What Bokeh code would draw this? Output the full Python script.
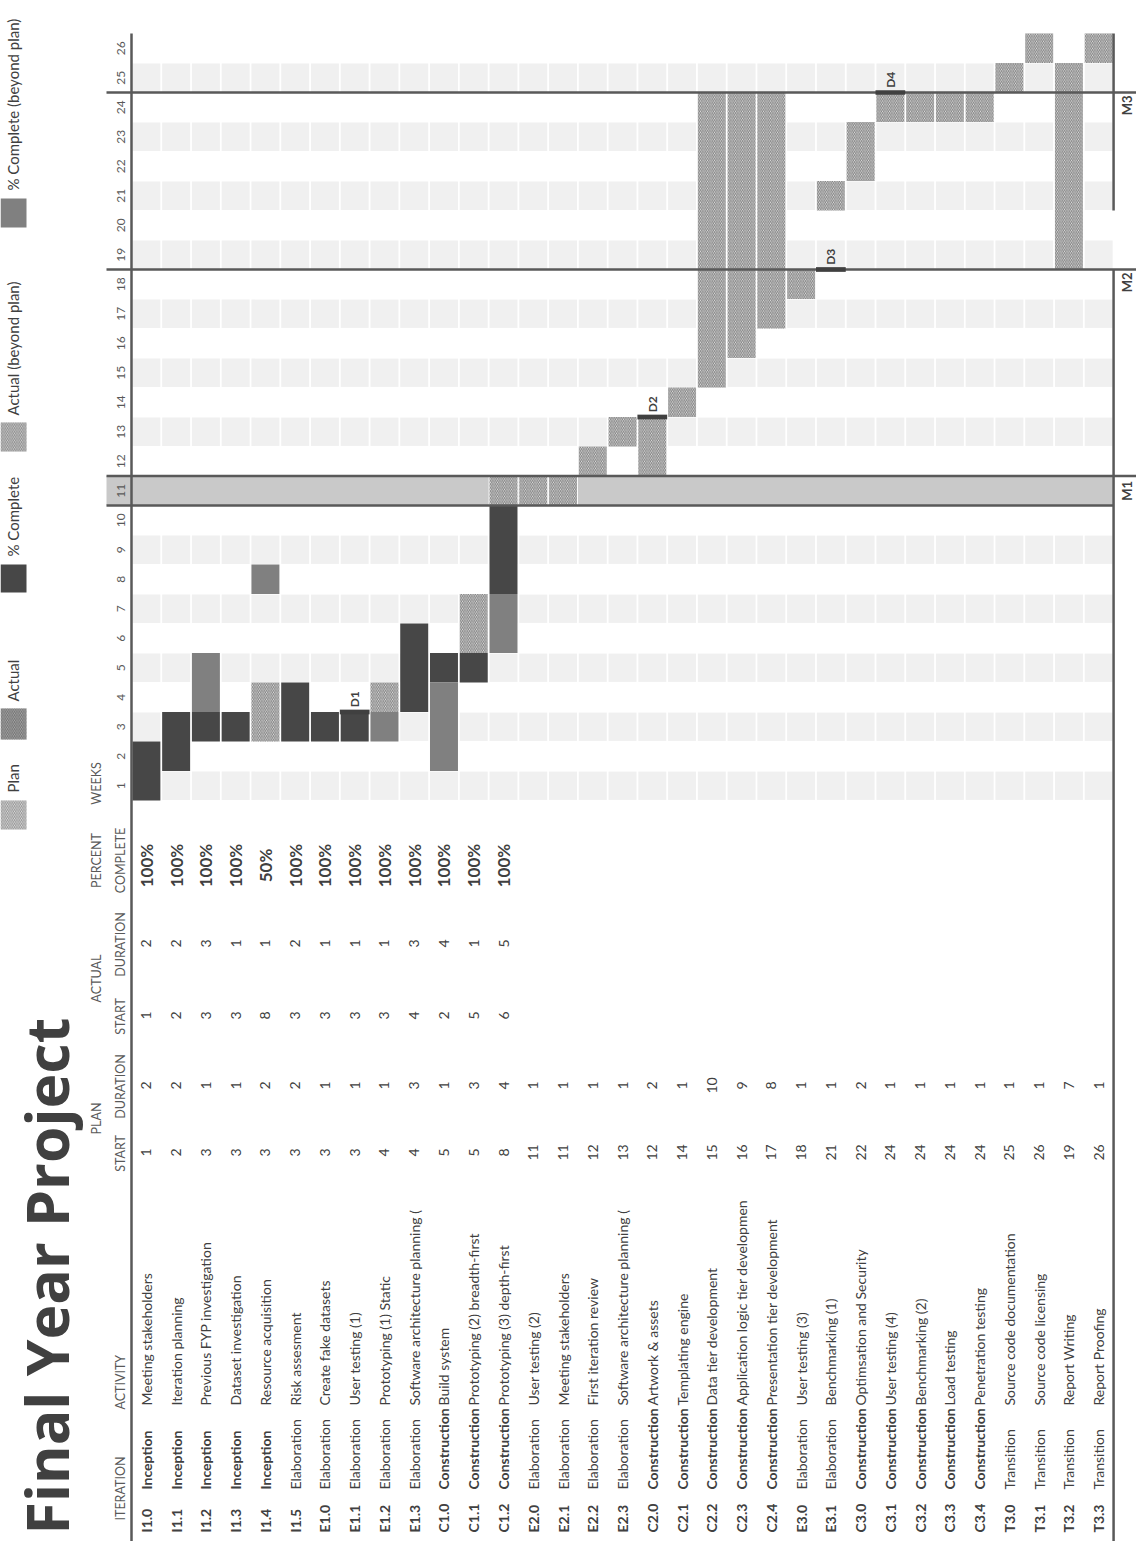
import math
from bokeh.plotting import figure
from bokeh.models import Range1d, ColumnDataSource
from bokeh.core.properties import value
from bokeh.embed import file_html
from bokeh.resources import INLINE

# ---------------- data ----------------
title = "Final Year Project"
codes = ["I1.0", "I1.1", "I1.2", "I1.3", "I1.4", "I1.5", "E1.0", "E1.1", "E1.2", "E1.3",
         "C1.0", "C1.1", "C1.2", "E2.0", "E2.1", "E2.2", "E2.3", "C2.0", "C2.1", "C2.2",
         "C2.3", "C2.4", "E3.0", "E3.1", "C3.0", "C3.1", "C3.2", "C3.3", "C3.4", "T3.0",
         "T3.1", "T3.2", "T3.3"]
iterations = ["Inception"] * 5 + ["Elaboration"] * 5 + ["Construction"] * 3 + \
             ["Elaboration"] * 4 + ["Construction"] * 5 + ["Elaboration"] * 2 + \
             ["Construction"] * 5 + ["Transition"] * 4
activities = ["Meeting stakeholders", "Iteration planning", "Previous FYP investigation",
              "Dataset investigation", "Resource acquisition", "Risk assesment",
              "Create fake datasets", "User testing (1)", "Prototyping (1) Static",
              "Software architecture planning (", "Build system",
              "Prototyping (2) breadth-first", "Prototyping (3) depth-first",
              "User testing (2)", "Meeting stakeholders", "First iteration review",
              "Software architecture planning (", "Artwork & assets", "Templating engine",
              "Data tier development", "Application logic tier developmen",
              "Presentation tier development", "User testing (3)", "Benchmarking (1)",
              "Optimsation and Security", "User testing (4)", "Benchmarking (2)",
              "Load testing", "Penetration testing", "Source code documentation",
              "Source code licensing", "Report Writing", "Report Proofing"]
plan_start = [1, 2, 3, 3, 3, 3, 3, 3, 4, 4, 5, 5, 8, 11, 11, 12, 13, 12, 14, 15, 16, 17,
              18, 21, 22, 24, 24, 24, 24, 25, 26, 19, 26]
plan_dur = [2, 2, 1, 1, 2, 2, 1, 1, 1, 3, 1, 3, 4, 1, 1, 1, 1, 2, 1, 10, 9, 8, 1, 1, 2,
            1, 1, 1, 1, 1, 1, 7, 1]
actual_start = [1, 2, 3, 3, 8, 3, 3, 3, 3, 4, 2, 5, 6] + [None] * 20
actual_dur = [2, 2, 3, 1, 1, 2, 1, 1, 1, 3, 4, 1, 5] + [None] * 20
percent = [100, 100, 100, 100, 50, 100, 100, 100, 100, 100, 100, 100, 100] + [None] * 20
weeks = list(range(1, 27))
deliverables = ["D1", "D2", "D3", "D4"]
deliverable_rows = ["E1.1", "C2.0", "E3.1", "C3.1"]
deliverable_weeks = [3, 13, 18, 24]
milestones = ["M1", "M2", "M3"]
milestone_weeks = [11, 18, 24]
legend_labels = ["Plan", "Actual", "% Complete", "Actual (beyond plan)",
                 "% Complete (beyond plan)"]
hdr_super = ["PLAN", "ACTUAL", "PERCENT", "WEEKS"]
hdr_main = ["START", "DURATION", "START", "DURATION", "COMPLETE"]

# ---------------- layout (reference pixels) ----------------
W, H = 1136, 1541
OFF = 8
X0, CW = 139.0, 29.76       # week-axis x, column pitch
Y0, RH = 808.0, 29.5        # bottom of week 1, week pitch


def ux(px):
    return (px - X0) / CW


def vy(py):
    return (Y0 - py) / RH


FONT = value("Lato")
DARK = "#474747"
MID = "#808080"
LIGHT = "#f0f0f0"
LINE = "#595959"
TXT = "#404040"
HDR = "#595959"
A = math.pi / 2

p = figure(width=W, height=H, output_backend="svg", toolbar_location=None,
           x_range=Range1d(ux(OFF), ux(OFF + W)), y_range=Range1d(vy(OFF + H), vy(OFF)),
           x_axis_location=None, y_axis_location=None, min_border=0,
           outline_line_color=None, background_fill_color="white")
p.grid.visible = False

n = len(codes)
G = 0.03

# alternating light week bands
lb = dict(l=[], r=[], b=[], t=[])
for w in weeks:
    if w % 2 == 1 and w != milestone_weeks[0]:
        for i in range(n):
            lb["l"].append(i + G); lb["r"].append(i + 1 - G)
            lb["b"].append(w - 1 + 0.02); lb["t"].append(w - 0.02)
p.quad(left="l", right="r", bottom="b", top="t", source=ColumnDataSource(lb),
       fill_color=LIGHT, line_color=None)

# milestone M1 band
m1 = milestone_weeks[0]
p.quad(left=[ux(114)], right=[n], bottom=[m1 - 1], top=[m1], fill_color="#c9c9c9",
       line_color=None)

# bars
segs = {"plan": dict(l=[], r=[], b=[], t=[]), "done": dict(l=[], r=[], b=[], t=[]),
        "beyond": dict(l=[], r=[], b=[], t=[])}
for i in range(n):
    pw = set(range(plan_start[i], plan_start[i] + plan_dur[i]))
    aw = set()
    if actual_start[i] is not None:
        aw = set(range(actual_start[i], actual_start[i] + actual_dur[i]))
    kinds = {}
    for w in pw - aw:
        kinds[w] = "plan"
    for w in aw:
        kinds[w] = "done" if w in pw else "beyond"
    ws = sorted(kinds)
    k = 0
    while k < len(ws):
        j = k
        while j + 1 < len(ws) and ws[j + 1] == ws[j] + 1 and kinds[ws[j + 1]] == kinds[ws[k]]:
            j += 1
        d = segs[kinds[ws[k]]]
        d["l"].append(i + G); d["r"].append(i + 1 - G)
        d["b"].append(ws[k] - 1); d["t"].append(ws[j])
        k = j + 1

# white backing so hatched cells keep white gaps on the M1 band
p.quad(left=[l - G for l in segs["plan"]["l"]], right=[r + G for r in segs["plan"]["r"]],
       bottom=segs["plan"]["b"], top=segs["plan"]["t"], fill_color="white", line_color=None)
p.quad(left="l", right="r", bottom="b", top="t", source=ColumnDataSource(segs["plan"]),
       fill_color="#e6e6e6", hatch_pattern="\\", hatch_color="#7c7c7c", hatch_scale=3.5,
       hatch_weight=1.0, line_color=None)
p.quad(left="l", right="r", bottom="b", top="t", source=ColumnDataSource(segs["done"]),
       fill_color=DARK, line_color=None)
p.quad(left="l", right="r", bottom="b", top="t", source=ColumnDataSource(segs["beyond"]),
       fill_color=MID, line_color=None)

# milestone lines
p.segment(x0=[ux(114)] * 4, x1=[ux(1145), n, ux(1145), ux(1145)],
          y0=[m1, m1 - 1, milestone_weeks[1], milestone_weeks[2]],
          y1=[m1, m1 - 1, milestone_weeks[1], milestone_weeks[2]],
          line_color=LINE, line_width=2.5)
# week axis / header separator and right border
p.segment(x0=[0, n, n], x1=[0, n, n], y0=[weeks[-1], weeks[-1], milestone_weeks[1]],
          y1=[vy(1560), 20, vy(1560)], line_color=LINE, line_width=2.5)

# deliverables
row_idx = {c: i for i, c in enumerate(codes)}
dx = [row_idx[r] for r in deliverable_rows]
p.quad(left=[x for x in dx], right=[x + 1 for x in dx],
       bottom=[w - 0.08 for w in deliverable_weeks], top=[w + 0.08 for w in deliverable_weeks],
       fill_color=TXT, line_color=None)
p.text(x=[x + 0.5 for x in dx], y=[w + 0.16 for w in deliverable_weeks], text=deliverables,
       angle=A, text_align="left", text_baseline="middle", text_font=FONT,
       text_font_size="12px", text_font_style="bold", text_color=TXT)

# milestone labels
p.text(x=[ux(1134)] * 3, y=[m1 - 0.5, milestone_weeks[1] - 0.1, milestone_weeks[2] - 0.1],
       text=milestones, angle=A, text_align=["center", "right", "right"],
       text_baseline="middle", text_font=FONT, text_font_size="13px",
       text_font_style="bold", text_color=TXT)

# week tick labels
p.text(x=[ux(128)] * len(weeks), y=[w - 0.5 for w in weeks], text=[str(w) for w in weeks],
       angle=A, text_align="center", text_baseline="middle", text_font=FONT,
       text_font_size="12px", text_color=HDR)

# table headers
p.text(x=[ux(104)] * 4, y=[vy(1126), vy(986), vy(868), vy(791)], text=hdr_super, angle=A,
       text_align="center", text_baseline="middle", text_font=FONT, text_font_size="12.5px",
       text_color=HDR)
p.text(x=[ux(128)] * 5, y=[vy(1161), vy(1094), vy(1024), vy(952), vy(868)], text=hdr_main,
       angle=A, text_align="center", text_baseline="middle", text_font=FONT,
       text_font_size="12.5px", text_color=HDR)
p.text(x=[ux(128)] * 2, y=[vy(1528), vy(1417)], text=["ITERATION", "ACTIVITY"], angle=A,
       text_align="left", text_baseline="middle", text_font=FONT, text_font_size="12.5px",
       text_color=HDR)

# table rows
rows_x = [i + 0.5 for i in range(n)]
p.text(x=rows_x, y=[vy(1540)] * n, text=codes, angle=A, text_align="left",
       text_baseline="middle", text_font=FONT, text_font_size="14px",
       text_font_style="bold", text_color=TXT)
bold_it = [i for i in range(n) if iterations[i] in ("Inception", "Construction")]
norm_it = [i for i in range(n) if i not in bold_it]
p.text(x=[rows_x[i] for i in bold_it], y=[vy(1497)] * len(bold_it),
       text=[iterations[i] for i in bold_it], angle=A, text_align="left",
       text_baseline="middle", text_font=FONT, text_font_size="14px",
       text_font_style="bold", text_color=TXT)
p.text(x=[rows_x[i] for i in norm_it], y=[vy(1497)] * len(norm_it),
       text=[iterations[i] for i in norm_it], angle=A, text_align="left",
       text_baseline="middle", text_font=FONT, text_font_size="14px", text_color=TXT)
p.text(x=rows_x, y=[vy(1413)] * n, text=activities, angle=A, text_align="left",
       text_baseline="middle", text_font=FONT, text_font_size="14px", text_color=TXT)
p.text(x=rows_x, y=[vy(1160)] * n, text=[str(v) for v in plan_start], angle=A,
       text_align="center", text_baseline="middle", text_font=FONT, text_font_size="14px",
       text_color=TXT)
p.text(x=rows_x, y=[vy(1093)] * n, text=[str(v) for v in plan_dur], angle=A,
       text_align="center", text_baseline="middle", text_font=FONT, text_font_size="14px",
       text_color=TXT)
act_rows = [i for i in range(n) if actual_start[i] is not None]
p.text(x=[rows_x[i] for i in act_rows], y=[vy(1023)] * len(act_rows),
       text=[str(actual_start[i]) for i in act_rows], angle=A, text_align="center",
       text_baseline="middle", text_font=FONT, text_font_size="14px", text_color=TXT)
p.text(x=[rows_x[i] for i in act_rows], y=[vy(951)] * len(act_rows),
       text=[str(actual_dur[i]) for i in act_rows], angle=A, text_align="center",
       text_baseline="middle", text_font=FONT, text_font_size="14px", text_color=TXT)
p.text(x=[rows_x[i] for i in act_rows], y=[vy(873)] * len(act_rows),
       text=["%d%%" % percent[i] for i in act_rows], angle=A, text_align="center",
       text_baseline="middle", text_font=FONT, text_font_size="17px",
       text_font_style="bold", text_color=TXT)

# legend
lg_b = [vy(837), vy(747), vy(600), vy(459), vy(235)]
lg_t = [vy(808), vy(716), vy(572), vy(430), vy(206)]
lg_text_y = [vy(800), vy(709), vy(564), vy(423), vy(198)]
sw_l, sw_r = ux(8), ux(34)
p.quad(left=[sw_l], right=[sw_r], bottom=[lg_b[0]], top=[lg_t[0]], fill_color="#e4e4e4",
       hatch_pattern="\\", hatch_color="#8a8a8a", hatch_scale=3.5, hatch_weight=0.9,
       line_color=None)
p.quad(left=[sw_l], right=[sw_r], bottom=[lg_b[1]], top=[lg_t[1]], fill_color="#b0b0b0",
       hatch_pattern="\\", hatch_color="#6a6a6a", hatch_scale=3.5, hatch_weight=0.9,
       line_color=None)
p.quad(left=[sw_l], right=[sw_r], bottom=[lg_b[2]], top=[lg_t[2]], fill_color=DARK,
       line_color=None)
p.quad(left=[sw_l], right=[sw_r], bottom=[lg_b[3]], top=[lg_t[3]], fill_color="#d4d4d4",
       hatch_pattern="\\", hatch_color="#848484", hatch_scale=3.5, hatch_weight=0.9,
       line_color=None)
p.quad(left=[sw_l], right=[sw_r], bottom=[lg_b[4]], top=[lg_t[4]], fill_color=MID,
       line_color=None)
p.text(x=[ux(20)] * 5, y=lg_text_y, text=legend_labels, angle=A, text_align="left",
       text_baseline="middle", text_font=FONT, text_font_size="15px", text_color=TXT)

# title
p.text(x=[ux(53)], y=[vy(1542)], text=[title], angle=A, text_align="left",
       text_baseline="alphabetic", text_font=value("Open Sans"),
       text_font_size="59px", text_font_style="bold", text_color="#404040")

open("out.html", "w").write(file_html(p, INLINE))
